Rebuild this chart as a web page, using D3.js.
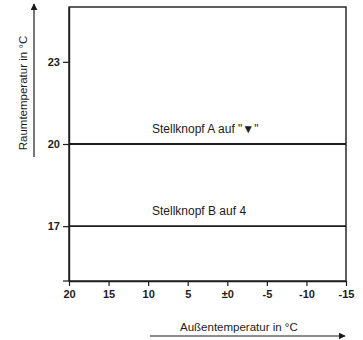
<!DOCTYPE html>
<html>
<head>
<meta charset="utf-8" />
<title>Raumtemperatur</title>
<style>
    body { margin: 0; background: #fff; }
    svg { display: block; font-family: "Liberation Sans", Arial, sans-serif; }
    .tick text { font-size: 11px; font-weight: bold; }
</style>
</head>
<body>
<svg width="363" height="340"></svg>
<script src="https://cdn.jsdelivr.net/npm/d3@7"></script>
<script>
// Außentemperatur (x) und Raumtemperatur (y)
var xTicks = [20, 15, 10, 5, 0, -5, -10, -15];
var xTickLabels = ['20', '15', '10', '5', '\u00b10', '-5', '-10', '-15'];
var yTicks = [17, 20, 23];
var seriesNames = ['Stellknopf A auf "\u25bc"', 'Stellknopf B auf 4'];
var seriesStart = [20, 17];   // Raumtemperatur bei +20 °C außen
var seriesEnd = [20, 17];     // Raumtemperatur bei -15 °C außen

var svg = d3.select('svg');
var ink = '#1c1c1c';

var x = d3.scaleLinear().domain([20, -15]).range([69, 346]);
var y = d3.scaleLinear().domain([15, 25]).range([281, 7]);

// Rahmen
svg.append('rect')
    .attr('x', x(20)).attr('y', y(25))
    .attr('width', x(-15) - x(20)).attr('height', y(15) - y(25))
    .attr('fill', 'none').attr('stroke', ink).attr('stroke-width', 1.4);

var xAxis = svg.append('g')
    .attr('transform', 'translate(0,' + y(15) + ')')
    .call(d3.axisBottom(x).tickValues(xTicks)
        .tickFormat(function (d, i) { return xTickLabels[i]; })
        .tickSize(5).tickPadding(4).tickSizeOuter(0));

var yAxis = svg.append('g')
    .attr('transform', 'translate(' + x(20) + ',0)')
    .call(d3.axisLeft(y).tickValues(yTicks).tickSize(6).tickPadding(3).tickSizeOuter(0));

svg.selectAll('.domain').attr('stroke', ink).attr('stroke-width', 1.4);
svg.selectAll('.tick line').attr('stroke', ink).attr('stroke-width', 1.2);
svg.selectAll('.tick text').attr('fill', ink);

// kleiner Überstand der x-Achse nach links
svg.append('line')
    .attr('x1', x(20) - 6).attr('x2', x(20))
    .attr('y1', y(15)).attr('y2', y(15))
    .attr('stroke', ink).attr('stroke-width', 1.2);

// Kennlinien
var kurven = seriesNames.map(function (n, i) {
    return { name: n, a: seriesStart[i], b: seriesEnd[i] };
});

svg.selectAll('line.kurve')
    .data(kurven)
    .enter()
    .append('line')
    .attr('class', 'kurve')
    .attr('x1', x(20)).attr('x2', x(-15))
    .attr('y1', function (d) { return y(d.a); })
    .attr('y2', function (d) { return y(d.b); })
    .attr('stroke', ink).attr('stroke-width', 1.8);

svg.selectAll('text.kurve')
    .data(kurven)
    .enter()
    .append('text')
    .attr('class', 'kurve')
    .attr('x', 152)
    .attr('y', function (d) { return y(d.a) - 11; })
    .attr('font-size', 12)
    .attr('fill', ink)
    .text(function (d) { return d.name; });

// Pfeile und Achsentitel
svg.append('defs').append('marker')
    .attr('id', 'pfeil')
    .attr('viewBox', '0 0 10 10')
    .attr('refX', 9).attr('refY', 5)
    .attr('markerWidth', 7).attr('markerHeight', 7)
    .attr('markerUnits', 'userSpaceOnUse')
    .attr('orient', 'auto')
    .append('path').attr('d', 'M0,0 L10,5 L0,10 Z').attr('fill', ink);

svg.append('line')
    .attr('x1', 34).attr('y1', 157).attr('x2', 34).attr('y2', 4)
    .attr('stroke', ink).attr('stroke-width', 1.2)
    .attr('marker-end', 'url(#pfeil)');

svg.append('text')
    .attr('transform', 'translate(27,93) rotate(-90)')
    .attr('text-anchor', 'middle')
    .attr('font-size', 11.5)
    .attr('fill', ink)
    .text('Raumtemperatur in \u00b0C');

svg.append('line')
    .attr('x1', 150).attr('y1', 336).attr('x2', 345).attr('y2', 336)
    .attr('stroke', ink).attr('stroke-width', 1.2)
    .attr('marker-end', 'url(#pfeil)');

svg.append('text')
    .attr('x', 180).attr('y', 331)
    .attr('font-size', 11.5)
    .attr('fill', ink)
    .text('Au\u00dfentemperatur in \u00b0C');
</script>
</body>
</html>
